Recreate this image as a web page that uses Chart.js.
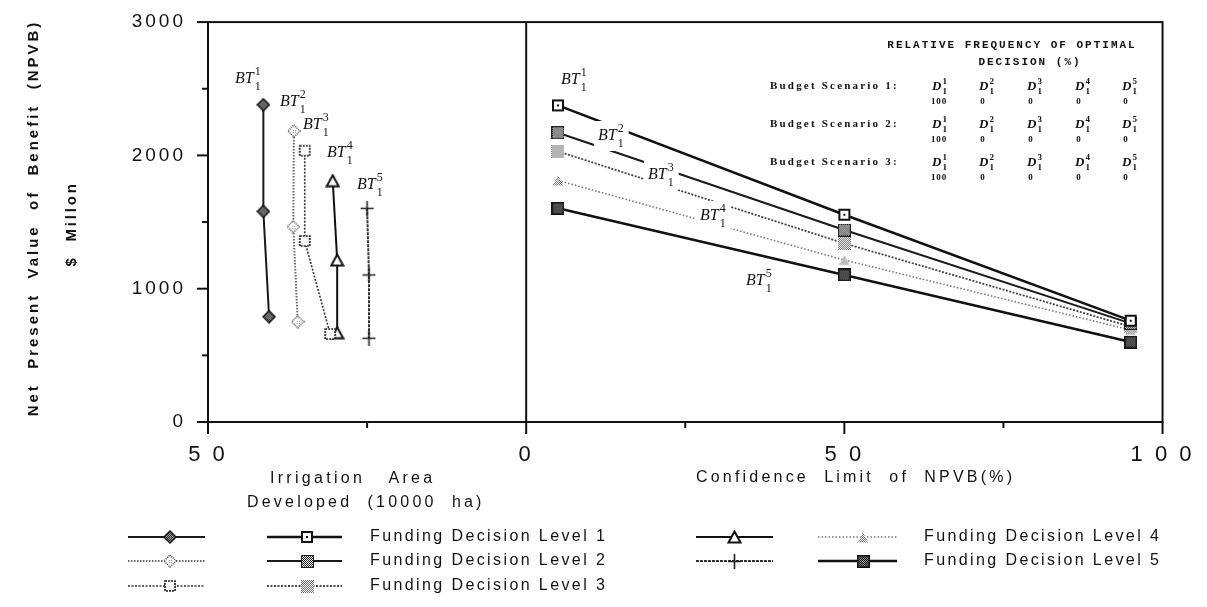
<!DOCTYPE html>
<html>
<head>
<meta charset="utf-8">
<script src="https://cdn.jsdelivr.net/npm/chart.js@4.4.1/dist/chart.umd.min.js"></script>
<style>
  html, body { margin: 0; padding: 0; background: #fff; }
  #wrap { position: relative; width: 1207px; height: 607px; }
</style>
</head>
<body>
<div id="wrap"><canvas id="c" width="1207" height="607"></canvas></div>
<script>
// ---- data ----
const levelNames = ['Funding Decision Level 1', 'Funding Decision Level 2', 'Funding Decision Level 3',
                    'Funding Decision Level 4', 'Funding Decision Level 5'];

// right panel: NPVB ($ million) at each confidence limit of NPVB (%)
const confidenceLimits = [5, 50, 95];
const npvbLevel1 = [2375, 1555, 760];
const npvbLevel2 = [2170, 1440, 740];
const npvbLevel3 = [2030, 1340, 715];
const npvbLevel4 = [1812, 1215, 690];
const npvbLevel5 = [1603, 1103, 600];

// left panel: irrigation area developed (10000 ha) against NPVB ($ million)
const areaLevel1 = [41.3, 41.3, 40.4];
const areaNpvbLevel1 = [2380, 1580, 790];
const areaLevel2 = [36.5, 36.6, 35.9];
const areaNpvbLevel2 = [2183, 1465, 752];
const areaLevel3 = [34.8, 34.8, 30.8];
const areaNpvbLevel3 = [2035, 1358, 660];
const areaLevel4 = [30.4, 29.7, 29.7];
const areaNpvbLevel4 = [1810, 1215, 670];
const areaLevel5 = [25.0, 24.7, 24.7];
const areaNpvbLevel5 = [1603, 1103, 628];

// axis ticks (left half of the x axis is area, drawn mirrored)
const xTickValues = [-50, -25, 0, 25, 50, 75, 100];
const xTickLabels = ['5 0', '', '0', '', '5 0', '', '1 0 0'];
const yTickLabels = ['0', '1000', '2000', '3000'];

// relative frequency of optimal decision (%) per budget scenario
const budgetScenarios = ['Budget Scenario 1:', 'Budget Scenario 2:', 'Budget Scenario 3:'];
const freqScenario1 = [100, 0, 0, 0, 0];
const freqScenario2 = [100, 0, 0, 0, 0];
const freqScenario3 = [100, 0, 0, 0, 0];

// ---- fonts ----
const SANS = '"Liberation Sans", Arial, Helvetica, sans-serif';
const SERIF = '"Liberation Serif", "Times New Roman", serif';
const MONO = '"Liberation Mono", "DejaVu Sans Mono", monospace';

// ---- marker glyphs ----
function glyph(w, h, paint) {
  const c = document.createElement('canvas');
  c.width = w; c.height = h;
  paint(c.getContext('2d'), w, h);
  return c;
}
function checker(g, w, h, dark, light, step) {
  for (let y = 0; y < h; y++) for (let x = 0; x < w; x++) {
    g.fillStyle = ((x + y) % step === 0) ? dark : light;
    g.fillRect(x, y, 1, 1);
  }
}
function diamondPath(g, s) {
  const m = s / 2;
  g.beginPath(); g.moveTo(m, 1); g.lineTo(s - 1, m); g.lineTo(m, s - 1); g.lineTo(1, m); g.closePath();
}
function triPath(g, w, h) {
  g.beginPath(); g.moveTo(w / 2, 1.5); g.lineTo(w - 1.5, h - 1.5); g.lineTo(1.5, h - 1.5); g.closePath();
}
const glyphs = {
  diamondFill: glyph(14, 14, (g) => {
    diamondPath(g, 14); g.save(); g.clip(); checker(g, 14, 14, '#333', '#9a9a9a', 2); g.restore();
    g.lineWidth = 1.5; g.strokeStyle = '#111'; g.stroke();
  }),
  diamondDots: glyph(14, 14, (g) => {
    diamondPath(g, 14); g.fillStyle = '#fff'; g.fill();
    g.setLineDash([1, 1]); g.lineWidth = 1.6; g.strokeStyle = '#555'; g.stroke();
    g.fillStyle = '#888'; g.fillRect(6, 6, 1, 1); g.fillRect(8, 8, 1, 1); g.fillRect(6, 8, 1, 1); g.fillRect(8, 6, 1, 1);
  }),
  squareJag: glyph(14, 14, (g) => {
    g.fillStyle = '#fff'; g.fillRect(2, 2, 10, 10);
    g.setLineDash([2, 1]); g.lineWidth = 1.7; g.strokeStyle = '#222'; g.strokeRect(2, 2, 10, 10);
  }),
  triOpen: glyph(15, 14, (g, w, h) => {
    triPath(g, w, h); g.fillStyle = '#fff'; g.fill(); g.lineWidth = 2; g.strokeStyle = '#111'; g.stroke();
  }),
  plus: glyph(15, 15, (g) => {
    g.strokeStyle = '#222'; g.lineWidth = 1.6; g.beginPath();
    g.moveTo(7.5, 0); g.lineTo(7.5, 15); g.moveTo(1, 7.5); g.lineTo(14, 7.5); g.stroke();
  }),
  squareDot: glyph(14, 14, (g) => {
    g.fillStyle = '#fff'; g.fillRect(2, 2, 10, 10);
    g.lineWidth = 2; g.strokeStyle = '#111'; g.strokeRect(2, 2, 10, 10);
    g.fillStyle = '#111'; g.fillRect(6, 6, 2, 2);
  }),
  squareHatch: glyph(13, 13, (g) => {
    checker(g, 13, 13, '#111', '#fff', 2);
    g.strokeStyle = '#222'; g.lineWidth = 1; g.beginPath();
    g.moveTo(1, 1); g.lineTo(12, 12); g.moveTo(12, 1); g.lineTo(1, 12); g.stroke();
    g.strokeRect(0.5, 0.5, 12, 12);
  }),
  squareLight: glyph(13, 13, (g) => {
    checker(g, 13, 13, '#6a6a6a', '#fff', 2);
  }),
  triDots: glyph(14, 13, (g, w, h) => {
    triPath(g, w, h); g.save(); g.clip(); checker(g, w, h, '#7a7a7a', '#fff', 2); g.restore();
  }),
  squareDark: glyph(13, 13, (g) => {
    checker(g, 13, 13, '#111', '#8a8a8a', 2);
    g.lineWidth = 1.5; g.strokeStyle = '#111'; g.strokeRect(0.75, 0.75, 11.5, 11.5);
  })
};

// ---- series styles ----
const leftStyles = [
  { borderColor: '#1a1a1a', borderWidth: 2, borderDash: [], pointStyle: glyphs.diamondFill },
  { borderColor: '#666', borderWidth: 2, borderDash: [1.5, 1.5], pointStyle: glyphs.diamondDots },
  { borderColor: '#333', borderWidth: 1.6, borderDash: [2, 1.5], pointStyle: glyphs.squareJag },
  { borderColor: '#111', borderWidth: 2, borderDash: [], pointStyle: glyphs.triOpen },
  { borderColor: '#333', borderWidth: 2, borderDash: [3, 1], pointStyle: glyphs.plus }
];
const rightStyles = [
  { borderColor: '#111', borderWidth: 2.5, borderDash: [], pointStyle: glyphs.squareDot },
  { borderColor: '#1a1a1a', borderWidth: 2, borderDash: [], pointStyle: glyphs.squareHatch },
  { borderColor: '#444', borderWidth: 1.8, borderDash: [2, 1.5], pointStyle: glyphs.squareLight },
  { borderColor: '#777', borderWidth: 1.6, borderDash: [1.5, 2], pointStyle: glyphs.triDots },
  { borderColor: '#111', borderWidth: 2.5, borderDash: [], pointStyle: glyphs.squareDark }
];

const areaSeries = [
  [areaLevel1, areaNpvbLevel1], [areaLevel2, areaNpvbLevel2], [areaLevel3, areaNpvbLevel3],
  [areaLevel4, areaNpvbLevel4], [areaLevel5, areaNpvbLevel5]
];
const npvbSeries = [npvbLevel1, npvbLevel2, npvbLevel3, npvbLevel4, npvbLevel5];

function seriesOptions(style) {
  return Object.assign({ showLine: true, fill: false, tension: 0, pointRadius: 6,
    pointHoverRadius: 6, backgroundColor: '#fff' }, style);
}
const datasets = [];
areaSeries.forEach(([area, npvb], i) => {
  // area axis runs from 50 on the left to 0 at the divider, so area is plotted as -area
  datasets.push(Object.assign({ label: levelNames[i] + ' (area)',
    data: area.map((a, k) => ({ x: -a, y: npvb[k] })) }, seriesOptions(leftStyles[i])));
});
npvbSeries.forEach((npvb, i) => {
  datasets.push(Object.assign({ label: levelNames[i],
    data: confidenceLimits.map((c, k) => ({ x: c, y: npvb[k] })) }, seriesOptions(rightStyles[i])));
});

// ---- annotation placement (canvas px) ----
const btLeftPos = [[235, 83], [280, 106], [303, 129], [327, 157], [357, 189]];
const btRightPos = [[561, 84], [598, 140], [648, 179], [700, 220], [746, 285]];

function drawText(ctx, s, x, y, font, align, spacing, baseline) {
  ctx.save();
  ctx.font = font;
  ctx.letterSpacing = (spacing || 0) + 'px';
  ctx.textAlign = align || 'left';
  ctx.textBaseline = baseline || 'middle';
  ctx.fillStyle = '#111';
  ctx.fillText(s, x, y);
  ctx.restore();
}

function drawBT(ctx, k, x, y, knockout) {
  ctx.save();
  ctx.font = 'italic 16px ' + SERIF;
  ctx.letterSpacing = '0px';
  const w = ctx.measureText('BT').width;
  if (knockout) {
    ctx.fillStyle = '#fff';
    ctx.fillRect(x - 4, y - 19, w + 16, 30);
  }
  ctx.fillStyle = '#111';
  ctx.textBaseline = 'alphabetic';
  ctx.fillText('BT', x, y);
  ctx.font = '12px ' + SERIF;
  ctx.fillText(String(k), x + w + 1, y - 8);
  ctx.fillText('1', x + w + 1, y + 7);
  ctx.restore();
}

function drawD(ctx, k, x, y) {
  ctx.save();
  ctx.fillStyle = '#111';
  ctx.letterSpacing = '0px';
  ctx.textBaseline = 'alphabetic';
  ctx.font = 'italic bold 13px ' + SERIF;
  const w = ctx.measureText('D').width;
  ctx.fillText('D', x, y);
  ctx.font = 'bold 9px ' + SERIF;
  ctx.fillText(String(k), x + w + 1, y - 6);
  ctx.fillText('1', x + w + 1, y + 4);
  ctx.restore();
}

const decor = {
  id: 'decor',
  beforeDraw(chart) {
    const ctx = chart.ctx;
    ctx.save();
    ctx.fillStyle = '#fff';
    ctx.fillRect(0, 0, chart.width, chart.height);
    ctx.restore();
    // wide tracking of the typewritten tick labels
    ctx.letterSpacing = '3px';
  },
  afterDatasetsDraw(chart) {
    const ctx = chart.ctx;
    btLeftPos.forEach((p, i) => drawBT(ctx, i + 1, p[0], p[1], false));
    btRightPos.forEach((p, i) => drawBT(ctx, i + 1, p[0], p[1], true));
  },
  afterDraw(chart) {
    const ctx = chart.ctx, xs = chart.scales.x, ys = chart.scales.y, a = chart.chartArea;
    ctx.save();
    ctx.letterSpacing = '0px';
    ctx.strokeStyle = '#111';
    ctx.lineWidth = 2;
    const seg = (x1, y1, x2, y2) => { ctx.beginPath(); ctx.moveTo(x1, y1); ctx.lineTo(x2, y2); ctx.stroke(); };

    // frame, divider between the two panels
    ctx.strokeRect(a.left, a.top, a.right - a.left, a.bottom - a.top);
    const x0 = xs.getPixelForValue(0);
    seg(x0, a.top, x0, a.bottom);

    // tick marks
    ys.ticks.forEach(t => {
      const py = ys.getPixelForValue(t.value);
      seg(a.left - (t.value % 1000 === 0 ? 11 : 6), py, a.left, py);
    });
    xs.ticks.forEach(t => {
      const px = xs.getPixelForValue(t.value);
      seg(px, a.bottom, px, a.bottom + (t.value % 50 === 0 ? 12 : 6));
    });
    ctx.restore();

    // axis titles
    ctx.save();
    ctx.translate(34, 218);
    ctx.rotate(-Math.PI / 2);
    drawText(ctx, 'Net  Present  Value  of  Benefit  (NPVB)', 0, 0, 'bold 15px ' + SANS, 'center', 3);
    ctx.restore();
    ctx.save();
    ctx.translate(72, 224);
    ctx.rotate(-Math.PI / 2);
    drawText(ctx, '$  Millon', 0, 0, 'bold 15px ' + SANS, 'center', 2.8);
    ctx.restore();

    drawText(ctx, 'Irrigation   Area', 270, 479, '16px ' + SANS, 'left', 3.3);
    drawText(ctx, 'Developed  (10000  ha)', 247, 503, '16px ' + SANS, 'left', 3.2);
    drawText(ctx, 'Confidence  Limit  of  NPVB(%)', 696, 478, '16px ' + SANS, 'left', 3.2);

    // legend: area sample, confidence sample, name
    const rows = [537, 561, 586];
    const cols = [
      { a: [128, 205, 170], b: [267, 342, 307], t: 370 },
      { a: [696, 773, 734], b: [818, 897, 863], t: 924 }
    ];
    const sample = (ds, x1, x2, xm, y) => {
      ctx.save();
      ctx.strokeStyle = ds.borderColor;
      ctx.lineWidth = ds.borderWidth;
      ctx.setLineDash(ds.borderDash || []);
      seg(x1, y, x2, y);
      const im = ds.pointStyle;
      ctx.drawImage(im, Math.round(xm - im.width / 2), Math.round(y - im.height / 2));
      ctx.restore();
    };
    for (let i = 0; i < 5; i++) {
      const c = cols[i < 3 ? 0 : 1], y = rows[i < 3 ? i : i - 3];
      sample(chart.data.datasets[i], c.a[0], c.a[1], c.a[2], y);
      sample(chart.data.datasets[5 + i], c.b[0], c.b[1], c.b[2], y);
      drawText(ctx, levelNames[i], c.t, y, '16px ' + SANS, 'left', 2.4);
    }

    // relative frequency table
    drawText(ctx, 'RELATIVE FREQUENCY OF OPTIMAL', 1012, 45, 'bold 11px ' + MONO, 'center', 2);
    drawText(ctx, 'DECISION (%)', 1030, 62, 'bold 11px ' + MONO, 'center', 2);
    const dCols = [932, 979, 1027, 1075, 1122];
    const rowY = [90, 128, 166];
    const freqs = [freqScenario1, freqScenario2, freqScenario3];
    budgetScenarios.forEach((s, r) => {
      drawText(ctx, s, 770, rowY[r] - 4, 'bold 11px ' + SERIF, 'left', 2.2);
      dCols.forEach((cx, k) => {
        drawD(ctx, k + 1, cx, rowY[r]);
        drawText(ctx, String(freqs[r][k]), cx + (k === 0 ? 7 : 4), rowY[r] + 12, 'bold 9px ' + SERIF, 'center', 0.8);
      });
    });
  }
};

new Chart(document.getElementById('c'), {
  type: 'scatter',
  data: { datasets },
  options: {
    responsive: false,
    animation: false,
    devicePixelRatio: 1,
    // plot frame lands at x 208..1165, y 22..422
    layout: { padding: { left: 0, right: 39.5, top: 22, bottom: 0 } },
    plugins: { legend: { display: false }, tooltip: { enabled: false } },
    scales: {
      x: {
        type: 'linear', min: -50, max: 100,
        afterFit(s) { s.height = 185; },
        afterBuildTicks(s) { s.ticks = xTickValues.map(v => ({ value: v })); },
        grid: { display: false, drawTicks: false },
        border: { display: false },
        ticks: {
          autoSkip: false, maxRotation: 0, minRotation: 0, padding: 20, color: '#111',
          font: { family: SANS, size: 22, lineHeight: 1.2 },
          callback: (v) => xTickLabels[xTickValues.indexOf(v)] ?? ''
        }
      },
      y: {
        type: 'linear', min: 0, max: 3000,
        afterFit(s) { s.width = 208; },
        grid: { display: false, drawTicks: false },
        border: { display: false },
        ticks: {
          stepSize: 500, padding: 22, color: '#111',
          font: { family: SANS, size: 19, lineHeight: 0.01 },
          callback: (v) => (v % 1000 === 0 ? yTickLabels[v / 1000] : '')
        }
      }
    }
  },
  plugins: [decor]
});
</script>
</body>
</html>
